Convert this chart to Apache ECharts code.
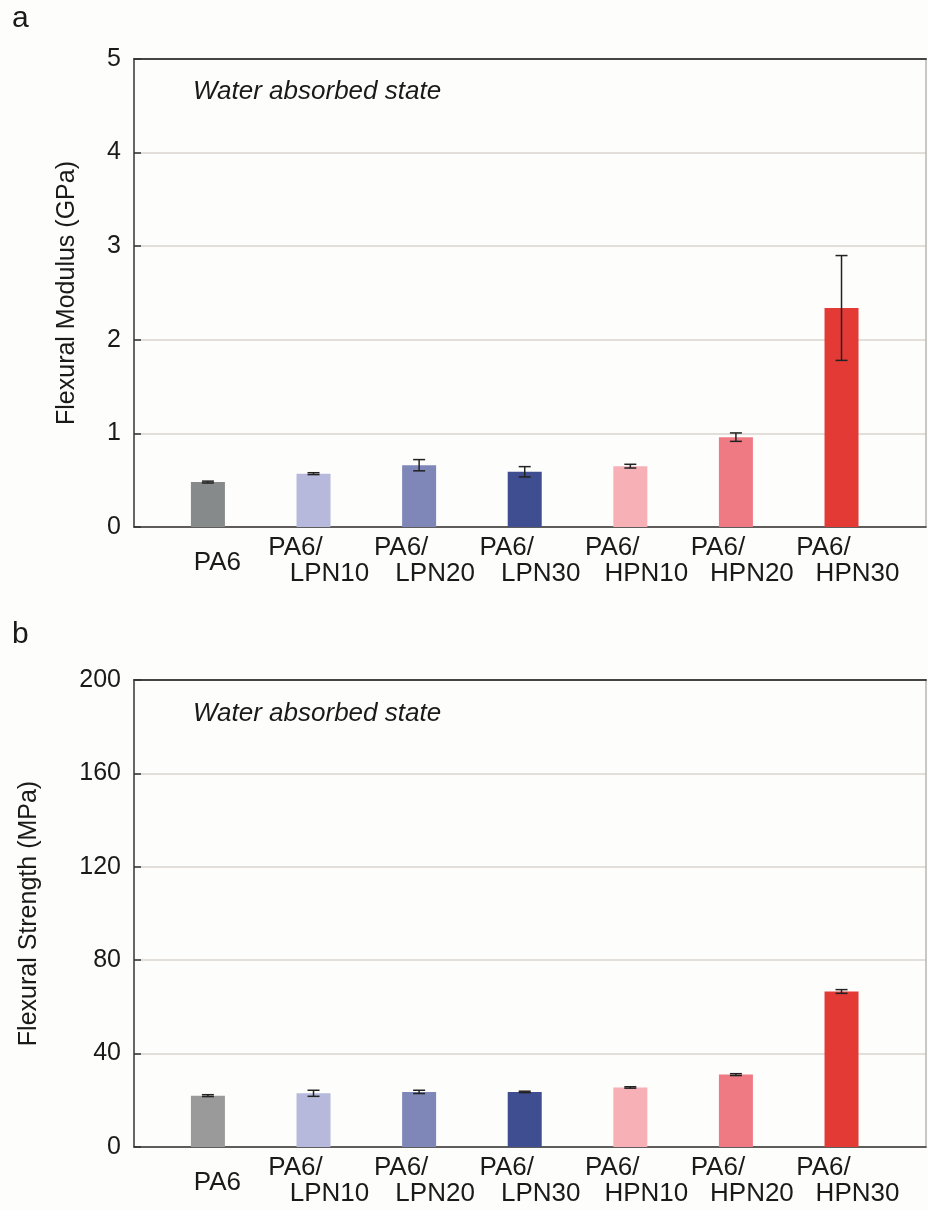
<!DOCTYPE html>
<html>
<head>
<meta charset="utf-8">
<script src="https://cdn.jsdelivr.net/npm/echarts@6/dist/echarts.min.js"></script>
<style>
  html, body { margin: 0; padding: 0; background: #fdfdfc; }
  #main { width: 928px; height: 1210px; }
</style>
</head>
<body>
<div id="main"></div>
<script>
// data
const categories = ['PA6', 'PA6/LPN10', 'PA6/LPN20', 'PA6/LPN30', 'PA6/HPN10', 'PA6/HPN20', 'PA6/HPN30'];
const modulus = [0.48, 0.57, 0.66, 0.59, 0.65, 0.96, 2.34];
const modulusErr = [0.01, 0.01, 0.06, 0.055, 0.02, 0.045, 0.56];
const strength = [22.0, 23.0, 23.6, 23.6, 25.5, 31.0, 66.6];
const strengthErr = [0.4, 1.3, 0.7, 0.3, 0.3, 0.4, 0.8];
const modulusTicks = [0, 1, 2, 3, 4, 5];
const strengthTicks = [0, 40, 80, 120, 160, 200];

const colorsTop = ['#878a8a', '#b6b9dc', '#7e87b8', '#3f4d91', '#f7b0b6', '#f07a83', '#e33a36'];
const colorsBottom = ['#9a9a9a', '#b6b9dc', '#7e87b8', '#3f4d91', '#f7b0b6', '#f07a83', '#e33a36'];

const FONT = "'Liberation Sans', Arial, sans-serif";
const chart = echarts.init(document.getElementById('main'));

// x positions: categories are placed at 0..6 on a value axis
const X_MIN = -0.7, X_MAX = 6.8;
// empty end labels keep the real first/last labels out of the min/max overlap check
const labelValues = [X_MIN + 0.01].concat(categories.map((c, i) => i), [X_MAX - 0.01]);

function catLabel(v) {
  const name = categories[Math.round(v)];
  if (!name) return '';
  const parts = name.split('/');
  if (parts.length === 1) return '{s|' + name + '}';
  return '{a|' + parts[0] + '/}\n{b|' + parts[1] + '}';
}

function xAxes(gi) {
  return [
    {
      gridIndex: gi, type: 'value', min: X_MIN, max: X_MAX,
      axisLine: { show: true, onZero: false, lineStyle: { color: '#333', width: 1.5 } },
      axisTick: { show: false },
      splitLine: { show: false },
      axisLabel: {
        customValues: labelValues,
        hideOverlap: false,
        formatter: catLabel,
        margin: 8,
        color: '#1a1a1a',
        fontFamily: FONT,
        fontSize: 26,
        lineHeight: 26,
        rich: {
          a: { fontSize: 26, fontFamily: FONT, color: '#1a1a1a', padding: [0, 36, 0, 0], lineHeight: 26 },
          b: { fontSize: 26, fontFamily: FONT, color: '#1a1a1a', padding: [0, 0, 0, 32], lineHeight: 26 },
          s: { fontSize: 26, fontFamily: FONT, color: '#1a1a1a', padding: [30, 0, 0, 19], lineHeight: 26 }
        }
      }
    },
    {
      gridIndex: gi, type: 'value', min: X_MIN, max: X_MAX, position: 'top',
      axisLine: { show: true, onZero: false, lineStyle: { color: '#444', width: 2 } },
      axisTick: { show: false }, axisLabel: { show: false }, splitLine: { show: false }
    }
  ];
}

function yAxes(gi, ticks, name, gap) {
  const max = ticks[ticks.length - 1];
  const interval = ticks[1] - ticks[0];
  return [
    {
      gridIndex: gi, type: 'value', min: ticks[0], max: max, interval: interval,
      name: name, nameLocation: 'middle', nameGap: gap, nameRotate: 90,
      nameTextStyle: { fontFamily: FONT, fontSize: 25, color: '#1a1a1a' },
      axisLine: { show: true, onZero: false, lineStyle: { color: '#333', width: 1.5 } },
      axisTick: { show: true, inside: true, length: 7, lineStyle: { color: '#333', width: 1.5 } },
      axisLabel: { margin: 13, fontFamily: FONT, fontSize: 25, color: '#1a1a1a' },
      splitLine: { show: true, lineStyle: { color: '#d8d4d1', width: 1.5 } }
    },
    {
      gridIndex: gi, type: 'value', min: ticks[0], max: max, interval: interval, position: 'right',
      axisLine: { show: true, onZero: false, lineStyle: { color: '#b8b5b2', width: 1.5 } },
      axisTick: { show: false }, axisLabel: { show: false }, splitLine: { show: false }
    }
  ];
}

function barSeries(gi, values, colors) {
  return {
    type: 'bar',
    xAxisIndex: gi * 2, yAxisIndex: gi * 2,
    barWidth: 34,
    silent: true,
    data: values.map((v, i) => ({ value: [i, v], itemStyle: { color: colors[i] } }))
  };
}

function errSeries(gi, values, errs) {
  return {
    type: 'custom',
    xAxisIndex: gi * 2, yAxisIndex: gi * 2,
    silent: true,
    z: 5,
    data: values.map((v, i) => [i, v, errs[i]]),
    renderItem: function (params, api) {
      const x = api.value(0), y = api.value(1), e = api.value(2);
      const hi = api.coord([x, y + e]);
      const lo = api.coord([x, y - e]);
      const hw = 6;
      const style = { stroke: '#222', lineWidth: 1.5 };
      return {
        type: 'group',
        children: [
          { type: 'line', shape: { x1: hi[0], y1: hi[1], x2: lo[0], y2: lo[1] }, style: style },
          { type: 'line', shape: { x1: hi[0] - hw, y1: hi[1], x2: hi[0] + hw, y2: hi[1] }, style: style },
          { type: 'line', shape: { x1: lo[0] - hw, y1: lo[1], x2: lo[0] + hw, y2: lo[1] }, style: style }
        ]
      };
    }
  };
}

chart.setOption({
  backgroundColor: '#fdfdfc',
  animation: false,
  grid: [
    { left: 134, top: 59, width: 792, height: 468 },
    { left: 134, top: 680, width: 792, height: 467 }
  ],
  xAxis: xAxes(0).concat(xAxes(1)),
  yAxis: yAxes(0, modulusTicks, 'Flexural Modulus (GPa)', 54).concat(yAxes(1, strengthTicks, 'Flexural Strength (MPa)', 92)),
  series: [
    barSeries(0, modulus, colorsTop),
    errSeries(0, modulus, modulusErr),
    barSeries(1, strength, colorsBottom),
    errSeries(1, strength, strengthErr)
  ],
  graphic: [
    { type: 'text', left: 12, top: 4, style: { text: 'a', font: '30px ' + FONT, fill: '#1a1a1a' } },
    { type: 'text', left: 12, top: 620, style: { text: 'b', font: '30px ' + FONT, fill: '#1a1a1a' } },
    { type: 'text', left: 193, top: 79, style: { text: 'Water absorbed state', font: 'italic 26px ' + FONT, fill: '#1a1a1a' } },
    { type: 'text', left: 193, top: 701, style: { text: 'Water absorbed state', font: 'italic 26px ' + FONT, fill: '#1a1a1a' } }
  ]
});
</script>
</body>
</html>
